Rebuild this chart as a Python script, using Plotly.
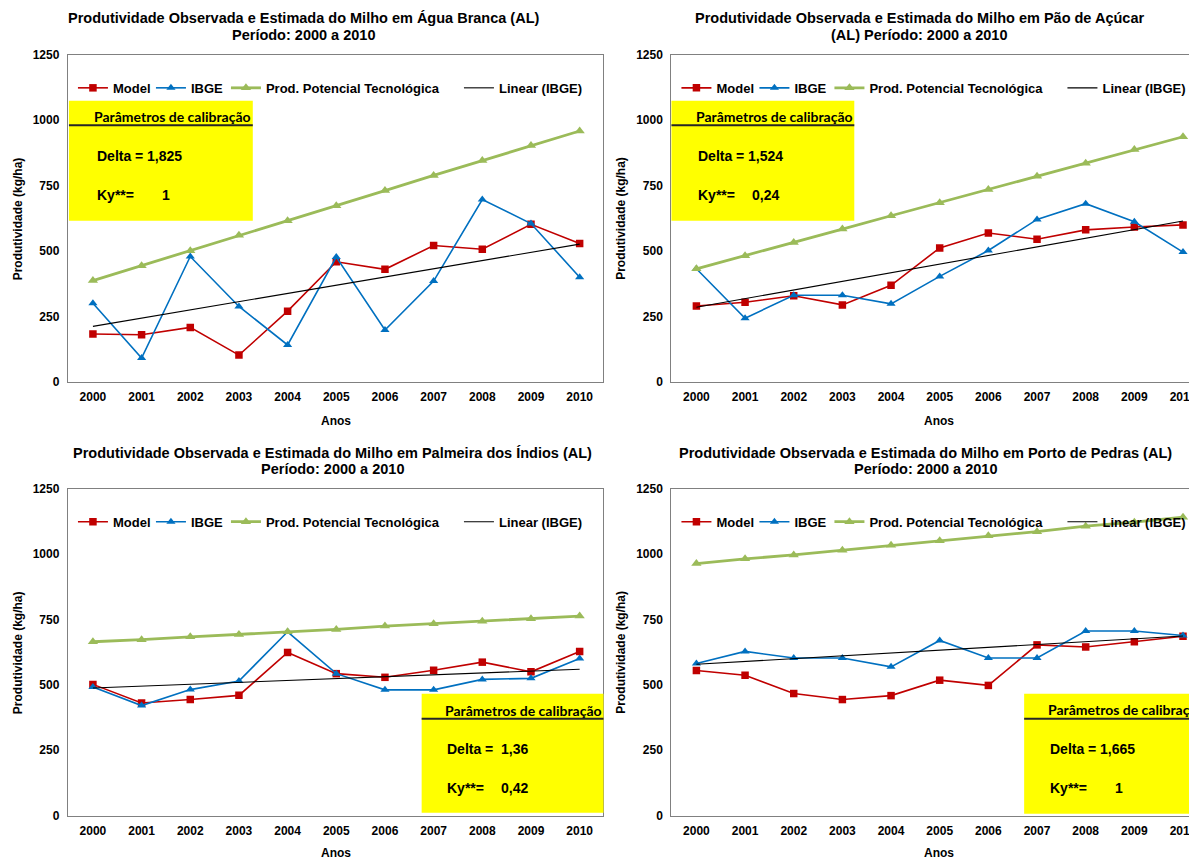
import plotly.graph_objects as go
import numpy as np

# Page placement correction measured from earlier renders:
# page_x = fig_x + 8 ; page_y = 14.1 + 0.984 * fig_y
XOFF = 8
YOFF, YSC = 14.1, 0.984
W, H = 1197 - XOFF, 859

years = list(range(2000, 2011))
year_labels = [str(y) for y in years]
y_ticks = [0, 250, 500, 750, 1000, 1250]

# Água Branca (AL)
ab_model = [183, 180, 208, 102, 270, 459, 430, 521, 507, 602, 529]
ab_ibge = [300, 91, 479, 288, 141, 477, 198, 385, 697, 605, 400]
ab_ppt = [387, 444, 501, 560, 616, 673, 731, 789, 846, 904, 959]

# Pão de Açúcar (AL)
pa_model = [290, 304, 329, 294, 369, 512, 569, 545, 581, 592, 600]
pa_ibge = [432, 243, 331, 331, 298, 403, 502, 621, 681, 612, 496]
pa_ppt = [432, 482, 533, 584, 635, 685, 735, 786, 836, 888, 937]

# Palmeira dos Índios (AL)
pi_model = [502, 431, 444, 460, 624, 543, 529, 556, 587, 550, 628]
pi_ibge = [492, 421, 482, 515, 703, 543, 481, 481, 521, 525, 601]
pi_ppt = [665, 673, 684, 693, 703, 712, 725, 734, 743, 753, 763]

# Porto de Pedras (AL)
pp_model = [555, 537, 467, 444, 459, 518, 498, 653, 645, 665, 686]
pp_ibge = [582, 628, 603, 603, 569, 670, 603, 603, 706, 706, 689]
pp_ppt = [964, 982, 997, 1015, 1034, 1051, 1070, 1086, 1107, 1122, 1141]

titles = [
    ("Produtividade Observada e Estimada do Milho em Água Branca (AL)", "Período: 2000 a 2010"),
    ("Produtividade Observada e Estimada do Milho em Pão de Açúcar", "(AL) Período: 2000 a 2010"),
    ("Produtividade Observada e Estimada do Milho em Palmeira dos Índios (AL)", "Período: 2000 a 2010"),
    ("Produtividade Observada e Estimada do Milho em Porto de Pedras (AL)", "Período: 2000 a 2010"),
]
deltas = ["1,825", "1,524", "1,36", "1,665"]
kys = ["1", "0,24", "0,42", "1"]
series_names = ["Model", "IBGE", "Prod. Potencial Tecnológica", "Linear (IBGE)"]

models = [ab_model, pa_model, pi_model, pp_model]
ibges = [ab_ibge, pa_ibge, pi_ibge, pp_ibge]
ppts = [ab_ppt, pa_ppt, pi_ppt, pp_ppt]

# ---- layout geometry (window pixels) ----
panels = [
    dict(x0=68, x1=604, y0=54, y1=381, xr=[1999.487, 2010.49], title_c=(304, 17, 34), anos=(336, 420),
         box=(69, 100, 253, 220, 124.5), hdr=(92, 116), lab=95, dv=145, kv=160, rows=(155, 194)),
    dict(x0=672, x1=1197, y0=54, y1=381, xr=[1999.487, 2010.267], title_c=(920, 17, 34), anos=(940, 420),
         box=(672, 100, 855, 220, 124.5), hdr=(695, 116), lab=697, dv=747, kv=751, rows=(155, 194)),
    dict(x0=68, x1=604, y0=488, y1=815, xr=[1999.487, 2010.49], title_c=(333, 452, 468), anos=(336, 852),
         box=(422, 693, 604, 812, 718), hdr=(443, 710), lab=445, dv=499, kv=499, rows=(748, 787)),
    dict(x0=672, x1=1197, y0=488, y1=815, xr=[1999.487, 2010.267], title_c=(926, 452, 468), anos=(940, 852),
         box=(1025, 693, 1197, 813, 718), hdr=(1047, 709), lab=1049, dv=1099, kv=1114, rows=(748, 787)),
]


def px(x):
    return min(1.0, (x - XOFF) / W)


def py(y):
    return 1 - ((y - YOFF) / YSC) / H


RED = "#C00000"
BLUE = "#0070C0"
GREEN = "#9BBB59"
ARIAL = "Liberation Sans, Arial, sans-serif"
CALIBRI = "Lato, Carlito, Calibri, sans-serif"

fig = go.Figure()
layout = dict(
    width=W, height=H, margin=dict(l=0, r=0, t=0, b=0),
    paper_bgcolor="white", plot_bgcolor="white",
    showlegend=True,
)
annotations = []
shapes = []

legend_widths = [33, 30, 188, 0]


def note(text, x, y, size, family=ARIAL, xanchor="left", angle=0):
    annotations.append(dict(text=text, x=x, y=y, xref="paper", yref="paper", showarrow=False,
                            xanchor=xanchor, yanchor="middle", textangle=angle,
                            font=dict(family=family, size=size, color="black", weight="bold")))


for i, p in enumerate(panels):
    k = i + 1
    xa = "x" if k == 1 else f"x{k}"
    ya = "y" if k == 1 else f"y{k}"
    lg = "legend" if k == 1 else f"legend{k}"
    slope, intercept = np.polyfit(years, ibges[i], 1)
    trend = [slope * yr + intercept for yr in years]

    fig.add_trace(go.Scatter(x=years, y=models[i], name=series_names[0], mode="lines+markers",
                             line=dict(color=RED, width=1.6), marker=dict(symbol="square", size=7.5, color=RED),
                             xaxis=xa, yaxis=ya, legend=lg, legendwidth=legend_widths[0]))
    fig.add_trace(go.Scatter(x=years, y=ibges[i], name=series_names[1], mode="lines+markers",
                             line=dict(color=BLUE, width=1.6), marker=dict(symbol="triangle-up", size=8, color=BLUE),
                             xaxis=xa, yaxis=ya, legend=lg, legendwidth=legend_widths[1]))
    fig.add_trace(go.Scatter(x=years, y=ppts[i], name=series_names[2], mode="lines+markers",
                             line=dict(color=GREEN, width=2.8), marker=dict(symbol="triangle-up", size=9, color=GREEN),
                             xaxis=xa, yaxis=ya, legend=lg, legendwidth=legend_widths[2]))
    fig.add_trace(go.Scatter(x=years, y=trend, name=series_names[3], mode="lines",
                             line=dict(color="black", width=1.1),
                             xaxis=xa, yaxis=ya, legend=lg))

    xkey = "xaxis" if k == 1 else f"xaxis{k}"
    ykey = "yaxis" if k == 1 else f"yaxis{k}"
    layout[xkey] = dict(domain=[px(p["x0"]), px(p["x1"])], range=p["xr"], anchor=ya,
                        tickvals=years, ticktext=year_labels, showgrid=False, zeroline=False,
                        showline=True, linecolor="#808080", linewidth=1.3, mirror=True,
                        ticks="", ticklabelstandoff=4,
                        tickfont=dict(family=ARIAL, size=12, color="black", weight="bold"))
    layout[ykey] = dict(domain=[py(p["y1"]), py(p["y0"])], range=[0, 1250], anchor=xa,
                        tickvals=y_ticks, showgrid=False, zeroline=False,
                        showline=True, linecolor="#808080", linewidth=1.3, mirror=True,
                        ticks="", ticklabelstandoff=5,
                        tickfont=dict(family=ARIAL, size=12, color="black", weight="bold"))
    layout[lg] = dict(orientation="h", x=px(p["x0"] + 5), xanchor="left",
                      y=py(p["y0"] + 18), yanchor="top", bgcolor="rgba(0,0,0,0)",
                      font=dict(family=ARIAL, size=13, color="black", weight="bold"),
                      itemwidth=30, tracegroupgap=0)

    # title (two lines)
    tx, ty1, ty2 = p["title_c"]
    note(titles[i][0], px(tx), py(ty1), 14.5, xanchor="center")
    note(titles[i][1], px(tx), py(ty2), 14.5, xanchor="center")
    # axis titles
    note("Anos", px(p["anos"][0]), py(p["anos"][1]), 12, xanchor="center")
    note("Produtividade (kg/ha)", px(p["x0"] - 50), py((p["y0"] + p["y1"]) / 2), 12,
         xanchor="center", angle=-90)

    # calibration box
    bx0, by0, bx1, by1, bl = p["box"]
    shapes.append(dict(type="rect", xref="paper", yref="paper", x0=px(bx0), x1=px(bx1),
                       y0=py(by1), y1=py(by0),
                       fillcolor="#FFFF00", line=dict(width=0), layer="above"))
    shapes.append(dict(type="line", xref="paper", yref="paper", x0=px(bx0), x1=px(bx1),
                       y0=py(bl), y1=py(bl),
                       line=dict(color="#262626", width=2), layer="above"))
    note("Parâmetros de calibração", px(p["hdr"][0]), py(p["hdr"][1]), 14, family=CALIBRI)
    for label, val, vx, ry in (("Delta =", deltas[i], p["dv"], p["rows"][0]),
                               ("Ky**=", kys[i], p["kv"], p["rows"][1])):
        note(label, px(p["lab"]), py(ry), 14)
        note(val, px(vx), py(ry), 14)

layout["annotations"] = annotations
layout["shapes"] = shapes
fig.update_layout(**layout)
fig.write_html("out.html")
